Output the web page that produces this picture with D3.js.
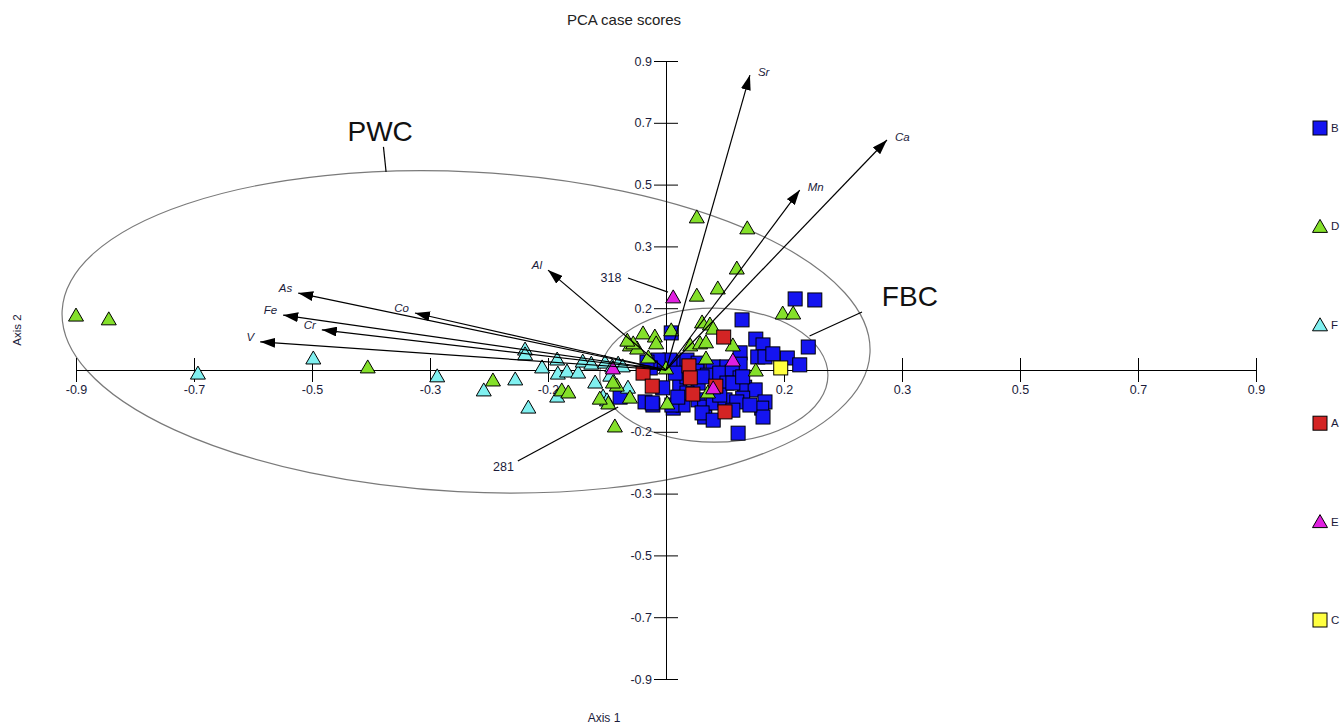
<!DOCTYPE html>
<html>
<head>
<meta charset="utf-8">
<script src="https://cdnjs.cloudflare.com/ajax/libs/d3/7.8.5/d3.min.js"></script>
<style>
    body { margin: 0; background: #ffffff; }
    svg { font-family: Arial, "Liberation Sans", sans-serif; }
</style>
</head>
<body>
<div id="plotRegi"></div>
<script>
/* Data */
// Case scores per group, [axis 1, axis 2]
var groupB = [
    [0.197, 0.207], [0.227, 0.204], [0.116, 0.146], [0.008, 0.108], [0.137, 0.090],
    [0.148, 0.073], [0.217, 0.067], [0.140, 0.038], [0.151, 0.038], [0.185, 0.035],
    [0.204, 0.015], [0.163, 0.047], [0.113, 0.050], [-0.005, 0.023], [0.017, 0.023],
    [0.032, 0.029], [0.049, 0.020], [0.072, 0.009], [0.093, 0.009], [0.113, 0.017],
    [0.047, -0.003], [0.063, -0.015], [0.082, -0.009], [0.101, -0.006], [0.113, -0.023],
    [-0.005, -0.052], [0.021, -0.044], [0.032, -0.020], [0.049, -0.038], [0.093, -0.038],
    [0.120, -0.050], [0.136, -0.058], [0.151, -0.093], [0.146, -0.111], [0.148, -0.137],
    [0.117, -0.082], [-0.032, -0.093], [-0.020, -0.102], [0.011, -0.111], [0.026, -0.102],
    [0.049, -0.087], [0.059, -0.108], [0.059, -0.137], [0.072, -0.096], [0.090, -0.087],
    [0.108, -0.093], [0.102, -0.117], [-0.070, -0.079], [0.110, -0.184], [0.006, 0.029],
    [-0.021, -0.096], [0.009, -0.102], [0.032, -0.067], [0.082, -0.073], [0.102, -0.038],
    [0.128, -0.102], [0.055, -0.125], [-0.012, 0.029], [0.014, -0.009], [0.018, -0.079],
    [-0.024, 0.006], [-0.029, 0.023], [0.117, -0.020], [0.055, -0.020], [0.072, -0.146]
]

var groupD = [
    [-0.900, 0.160], [-0.850, 0.149], [-0.455, 0.009], [-0.264, -0.029], [-0.159, -0.058],
    [-0.149, -0.064], [0.047, 0.446], [0.124, 0.414], [0.108, 0.297], [0.079, 0.239],
    [0.047, 0.218], [0.178, 0.166], [0.194, 0.166], [-0.035, 0.108], [-0.017, 0.099],
    [-0.015, 0.079], [-0.055, 0.073], [-0.044, 0.064], [-0.050, 0.079], [-0.027, 0.038],
    [0.008, 0.117], [0.055, 0.140], [0.067, 0.134], [0.072, 0.122], [0.037, 0.073],
    [0.052, 0.079], [0.061, 0.082], [0.061, 0.035], [0.102, 0.073], [0.000, 0.006],
    [0.137, 0.000], [-0.075, -0.044], [-0.055, -0.079], [-0.088, -0.096], [0.002, -0.096],
    [-0.078, -0.163], [0.064, -0.064], [-0.101, -0.082], [-0.081, -0.035], [-0.059, 0.087]
]

var groupF = [
    [-0.714, -0.009], [-0.538, 0.035], [-0.349, -0.017], [-0.278, -0.058], [-0.230, -0.026],
    [-0.215, 0.061], [-0.215, 0.047], [-0.210, -0.108], [-0.189, 0.009], [-0.166, 0.032],
    [-0.165, -0.009], [-0.151, -0.003], [-0.134, -0.006], [-0.127, 0.026], [-0.114, 0.020],
    [-0.166, -0.076], [-0.108, -0.035], [-0.096, -0.076], [-0.090, -0.087], [-0.093, 0.023],
    [-0.082, 0.012], [-0.073, 0.020], [-0.066, 0.012], [-0.058, -0.050], [-0.085, -0.015]
]

var groupA = [
    [0.088, 0.096], [0.035, 0.012], [0.037, -0.023], [-0.035, -0.009],
    [-0.021, -0.047], [0.076, -0.047], [0.041, -0.070], [0.090, -0.122]
]

var groupE = [[0.011, 0.213], [-0.081, 0.006], [0.102, 0.029], [0.072, -0.052]]

var groupC = [[0.175, 0.006]]

// Legend, in the order shown
var legendNames = ["B", "D", "F", "A", "E", "C"]
var legendColors = ["#1414f0", "#84e02a", "#80f0f0", "#d42424", "#e020e0", "#ffff40"]
var legendShapes = ["square", "triangle", "triangle", "square", "triangle", "square"]

// Variable loadings (biplot arrows)
var loadingNames = ["Sr", "Ca", "Mn", "Al", "As", "Co", "Fe", "Cr", "V"]
var loadingX = [0.128, 0.337, 0.204, -0.180, -0.561, -0.383, -0.584, -0.525, -0.619]
var loadingY = [0.859, 0.670, 0.524, 0.291, 0.224, 0.166, 0.160, 0.117, 0.082]

// Tick values and their printed labels
var tickValues = [-0.9, -0.72, -0.54, -0.36, -0.18, 0.18, 0.36, 0.54, 0.72, 0.9]
var xTickLabels = ["-0.9", "-0.7", "-0.5", "-0.3", "-0.2", "0.2", "0.3", "0.5", "0.7", "0.9"]
var yTickLabels = ["-0.9", "-0.7", "-0.5", "-0.3", "-0.2", "0.2", "0.3", "0.5", "0.7", "0.9"]

// Group ellipses: centre x, centre y, radius x, radius y, rotation
var ellipseNames = ["PWC", "FBC"]
var ellipseCX = [-0.305, 0.073]
var ellipseCY = [0.111, -0.015]
var ellipseRX = [0.617, 0.174]
var ellipseRY = [0.466, 0.195]
var ellipseRot = [3, 0]


/* Drawing */
var width = 1342,
    height = 726

var scale_x = d3.scaleLinear().domain([-0.9, 0.9]).range([76, 1256])
var scale_y = d3.scaleLinear().domain([-0.9, 0.9]).range([679, 61])

var svg = d3
    .select("#plotRegi")
    .append("svg")
    .attr("width", width)
    .attr("height", height)

// Arrow head
svg
    .append("defs")
    .append("marker")
    .attr("id", "arrowHead")
    .attr("viewBox", "0 0 15 10")
    .attr("refX", 15)
    .attr("refY", 5)
    .attr("markerWidth", 15)
    .attr("markerHeight", 10)
    .attr("markerUnits", "userSpaceOnUse")
    .attr("orient", "auto")
    .append("path")
    .attr("d", "M0,0 L15,5 L0,10 Z")
    .style("fill", "#000")

// Title and axis names
svg.append("text")
    .attr("x", 624).attr("y", 25)
    .attr("text-anchor", "middle")
    .style("font-size", "15px")
    .style("fill", "#222")
    .text("PCA case scores")

svg.append("text")
    .attr("transform", "translate(21,330) rotate(-90)")
    .attr("text-anchor", "middle")
    .style("font-size", "11.5px")
    .style("fill", "#1b1b3a")
    .text("Axis 2")

svg.append("text")
    .attr("x", 604).attr("y", 722)
    .attr("text-anchor", "middle")
    .style("font-size", "12px")
    .style("fill", "#1b1b3a")
    .text("Axis 1")

// Ellipses
var ell = svg.append("g").attr("id", "ellipses")
ellipseNames.forEach(function (n, i) {
    var cx = scale_x(ellipseCX[i]), cy = scale_y(ellipseCY[i])
    ell.append("ellipse")
        .attr("cx", cx)
        .attr("cy", cy)
        .attr("rx", scale_x(ellipseRX[i]) - scale_x(0))
        .attr("ry", scale_y(0) - scale_y(ellipseRY[i]))
        .attr("transform", "rotate(" + ellipseRot[i] + "," + cx + "," + cy + ")")
        .style("fill", "none")
        .style("stroke", "#7a7a7a")
        .style("stroke-width", "1.2px")
})

// Axes through the origin
var axisX = svg.append("g")
    .attr("transform", "translate(0," + scale_y(0) + ")")
    .call(d3.axisBottom(scale_x).tickValues(tickValues)
        .tickFormat(function (d, i) { return xTickLabels[i] })
        .tickSizeOuter(0))
axisX.selectAll(".tick line").attr("y1", -12).attr("y2", 12).style("stroke", "#000")
axisX.selectAll(".tick text").attr("y", 15).style("font-size", "12.5px").style("fill", "#1b1b3a")
axisX.select(".domain").style("stroke", "#000")

var axisY = svg.append("g")
    .attr("transform", "translate(" + scale_x(0) + ",0)")
    .call(d3.axisLeft(scale_y).tickValues(tickValues)
        .tickFormat(function (d, i) { return yTickLabels[i] })
        .tickSizeOuter(0))
axisY.selectAll(".tick line").attr("x1", -12).attr("x2", 12).style("stroke", "#000")
axisY.selectAll(".tick text").attr("x", -14).style("font-size", "12.5px").style("fill", "#1b1b3a")
axisY.select(".domain").style("stroke", "#000")
svg.selectAll(".tick text").style("font-family", "Arial, 'Liberation Sans', sans-serif")

// Point markers
function drawGroup(data, color, shape) {
    var g = svg.append("g")
    if (shape == "square") {
        g.selectAll("rect")
            .data(data)
            .enter()
            .append("rect")
            .attr("x", d => scale_x(d[0]) - 7)
            .attr("y", d => scale_y(d[1]) - 7)
            .attr("width", 14)
            .attr("height", 14)
            .style("fill", color)
            .style("stroke", "#000")
            .style("stroke-width", "1px")
    } else {
        g.selectAll("path")
            .data(data)
            .enter()
            .append("path")
            .attr("d", function (d) {
                var x = scale_x(d[0]), y = scale_y(d[1])
                return "M" + x + "," + (y - 7) + "L" + (x + 7.5) + "," + (y + 6) + "L" + (x - 7.5) + "," + (y + 6) + "Z"
            })
            .style("fill", color)
            .style("stroke", "#000")
            .style("stroke-width", "1px")
    }
}

drawGroup(groupB, legendColors[0], "square")
drawGroup(groupF, legendColors[2], "triangle")
drawGroup(groupD, legendColors[1], "triangle")
drawGroup(groupA, legendColors[3], "square")
drawGroup(groupE, legendColors[4], "triangle")
drawGroup(groupC, legendColors[5], "square")

// Loading arrows
var arrows = svg.append("g").attr("id", "loadings")
loadingNames.forEach(function (n, i) {
    var tx = scale_x(loadingX[i]), ty = scale_y(loadingY[i])
    arrows.append("line")
        .attr("x1", scale_x(0))
        .attr("y1", scale_y(0))
        .attr("x2", tx)
        .attr("y2", ty)
        .style("stroke", "#000")
        .style("stroke-width", "1.2px")
        .attr("marker-end", "url(#arrowHead)")
    var right = loadingX[i] > 0
    arrows.append("text")
        .attr("x", right ? tx + 8 : tx - 6)
        .attr("y", right ? ty + 1 : ty - 1)
        .attr("text-anchor", right ? "start" : "end")
        .style("font-size", "11.5px")
        .style("font-style", "italic")
        .style("fill", "#1b1b3a")
        .text(n)
})

// Labelled cases and group names with leader lines
var noteText = ["318", "281", "PWC", "FBC"]
var noteTextX = [-0.084, -0.248, -0.436, 0.372]
var noteTextY = [0.270, -0.281, 0.695, 0.214]
var noteSize = [12.5, 12.5, 28, 28]
var noteLineX1 = [-0.058, -0.226, -0.431, 0.299]
var noteLineY1 = [0.268, -0.265, 0.650, 0.169]
var noteLineX2 = [0.003, -0.073, -0.427, 0.219]
var noteLineY2 = [0.227, -0.108, 0.577, 0.099]

var notes = svg.append("g").attr("id", "notes")
noteText.forEach(function (t, i) {
    notes.append("line")
        .attr("x1", scale_x(noteLineX1[i]))
        .attr("y1", scale_y(noteLineY1[i]))
        .attr("x2", scale_x(noteLineX2[i]))
        .attr("y2", scale_y(noteLineY2[i]))
        .style("stroke", "#000")
        .style("stroke-width", "1.2px")
    notes.append("text")
        .attr("x", scale_x(noteTextX[i]))
        .attr("y", scale_y(noteTextY[i]))
        .attr("dy", "0.35em")
        .attr("text-anchor", "middle")
        .style("font-size", noteSize[i] + "px")
        .style("fill", noteSize[i] > 20 ? "#111" : "#1b1b3a")
        .text(t)
})

// Legend
var legend = svg.append("g").attr("id", "legend")
legendNames.forEach(function (n, i) {
    var cy = 128 + i * 98.4
    if (legendShapes[i] == "square") {
        legend.append("rect")
            .attr("x", 1313).attr("y", cy - 7)
            .attr("width", 14).attr("height", 14)
            .style("fill", legendColors[i])
            .style("stroke", "#000")
    } else {
        legend.append("path")
            .attr("d", "M1320," + (cy - 7) + "L1327.5," + (cy + 6) + "L1312.5," + (cy + 6) + "Z")
            .style("fill", legendColors[i])
            .style("stroke", "#000")
    }
    legend.append("text")
        .attr("x", 1331).attr("y", cy + 4)
        .style("font-size", "11.5px")
        .style("fill", "#1b1b3a")
        .text(n)
})
</script>
</body>
</html>
